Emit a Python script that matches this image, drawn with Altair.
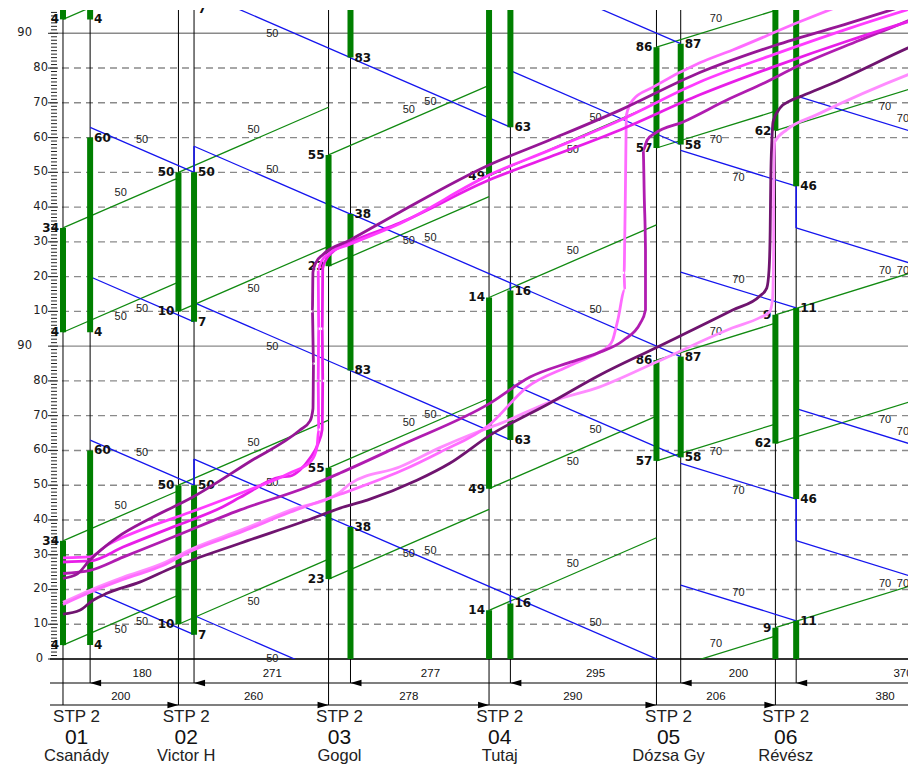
import altair as alt
import pandas as pd

# ---------------- chart values ----------------
CYCLE = 90                      # s, signal cycle
T_MAX = 186.7                   # s, top of time axis
X_MIN, X_MAX = -22.5, 1463.7    # m, distance range shown
W, H = 858, 649

names = ["Csanády", "Victor H", "Gogol", "Tutaj", "Dózsa Gy", "Révész"]
numbers = ["01", "02", "03", "04", "05", "06"]
controller = "STP 2"

dist_east = [200, 260, 278, 290, 206, 380]   # between left stop lines (m)
dist_west = [180, 271, 277, 295, 200, 370]   # between right stop lines (m)
west_offset = 47                             # first right stop line (m)
speed_east = [50, 50, 50, 50, 70, 70]        # km/h
speed_west = [50, 50, 50, 50, 70, 70]

green_east = [(4, 34), (10, 50), (23, 55), (49, 14), (57, 86), (62, 9)]
green_west = [(4, 60), (7, 50), (83, 38), (63, 16), (58, 87), (46, 11)]
# westbound band: departure times at the upstream right stop line
west_band = [(7, 50), (83, 38), (63, 18.2), (58, 87), (46, 11), (15, 53)]
# waiting marks on right stop lines: (line index, from, to)
west_wait = [(1, 50, 57.5), (3, 16, 18.2), (5, 34, 46)]

y_ticks = list(range(0, 181, 10))

traj_ids = ["LP1", "LP2", "DP", "MP", "GA_M2", "GA_M1", "GA_P"]
traj_colors = ["#ff8cff", "#ff6cff", "#6f146f", "#b01cb0", "#e81ee8", "#ff3cff", "#961696"]
traj_d = {
    "DP": [0, 29, 52, 76, 133, 191, 307, 423, 480, 527, 613, 670, 740, 843, 930, 1029, 1160, 1207, 1219,
           1223, 1225, 1226, 1228, 1230, 1242, 1259, 1276, 1334, 1464, 1536],
    "LP1": [0, 47, 104, 173, 225, 307, 393, 480, 497, 584, 653, 710, 757, 849, 930, 1029, 1160, 1207, 1224,
            1229, 1231, 1231, 1233, 1254, 1306, 1464, 1554],
    "LP2": [0, 47, 104, 173, 225, 307, 393, 480, 584, 653, 738, 804, 873, 926, 943, 952, 961, 973, 972,
            973, 974, 975, 976, 987, 1022, 1103, 1160, 1276, 1363],
    "MP": [0, 47, 104, 191, 307, 423, 480, 584, 740, 809, 879, 926, 971, 1000, 1009, 1009, 1007, 1005,
           1012, 1026, 1074, 1150, 1207, 1276, 1380, 1466, 1520],
    "GA_P": [0, 25, 45, 94, 152, 225, 324, 410, 428, 433, 434, 432, 433, 438, 450, 497, 584, 738, 843,
             965, 1103, 1233, 1363, 1450],
    "GA_M1": [0, 47, 76, 133, 220, 307, 393, 430, 440, 443, 442, 443, 442, 447, 460, 497, 584, 738, 843,
              965, 1103, 1233, 1363, 1467],
    "GA_M2": [0, 47, 104, 191, 277, 307, 376, 393, 410, 428, 442, 449, 450, 449, 450, 456, 468, 497, 584,
              738, 843, 965, 1103, 1233, 1363, 1467],
}
traj_t = {
    "DP": [12.9, 14.0, 16.9, 18.9, 22.1, 26.4, 33.3, 39.9, 43.4, 45.7, 51.4, 56.3, 64.4, 73.6, 81.7, 89.7,
           100.4, 104.4, 106.7, 111.9, 123.4, 137.8, 149.3, 154.5, 158.5, 160.5, 161.7, 165.7, 175.8, 181.0],
    "LP1": [16.3, 19.8, 23.5, 27.5, 31.8, 37.0, 42.8, 48.0, 50.4, 55.3, 60.8, 64.8, 67.7, 74.3, 78.3, 85.5,
            95.3, 98.2, 99.9, 103.4, 117.8, 132.2, 148.8, 152.3, 156.6, 168.1, 173.6],
    "LP2": [15.7, 19.2, 22.9, 26.9, 31.3, 36.4, 42.2, 47.4, 54.0, 59.5, 67.3, 78.2, 84.0, 88.0, 89.7, 91.7,
            97.5, 106.1, 111.1, 120.5, 132.0, 146.4, 156.5, 160.8, 164.5, 171.5, 175.2, 183.3, 189.0],
    "MP": [24.6, 25.5, 29.3, 35.1, 42.9, 49.5, 53.5, 61.4, 73.6, 81.1, 85.4, 88.0, 91.7, 96.6, 100.4, 117.6,
           132.0, 146.4, 149.3, 151.3, 154.5, 160.8, 165.1, 170.8, 178.0, 183.8, 188.0],
    "GA_P": [23.2, 24.5, 28.2, 35.0, 40.5, 46.6, 56.8, 65.8, 68.5, 72.0, 85.0, 100.0, 111.3, 114.0, 116.3,
             120.5, 128.6, 142.1, 149.3, 157.9, 168.7, 176.5, 183.0, 187.5],
    "GA_M1": [29.1, 29.4, 32.7, 37.0, 42.2, 47.7, 53.5, 57.0, 61.0, 66.0, 80.0, 95.0, 112.0, 114.2, 116.6,
              119.3, 125.3, 139.2, 146.4, 155.0, 166.0, 174.0, 181.5, 187.0],
    "GA_M2": [27.9, 28.2, 32.2, 38.0, 43.8, 46.5, 52.3, 52.6, 54.3, 57.8, 62.0, 66.0, 80.0, 95.0, 112.5,
              115.0, 117.2, 119.8, 125.5, 137.8, 144.4, 152.2, 162.3, 170.5, 178.0, 183.5],
}

# ---------------- derived tables ----------------
dL = [0]
for d in dist_east:
    dL.append(dL[-1] + d)
dR = [west_offset]
for d in dist_west:
    dR.append(dR[-1] + d)
CYC = [-2, -1, 0, 1, 2]

band_rows, lab_rows = [], []
for i in range(6):
    tt = dist_east[i] / (speed_east[i] / 3.6)
    for edge, t0 in zip(("lower", "upper"), green_east[i]):
        for k in CYC:
            a = t0 + CYCLE * k
            band_rows.append(dict(d0=dL[i], t0=a, d1=dL[i + 1], t1=a + tt, c="g"))
            lab_rows.append(dict(d=(dL[i] + dL[i + 1]) / 2, tm=a + tt / 2, edge=edge, s=str(speed_east[i])))
for j in range(6):
    tt = dist_west[j] / (speed_west[j] / 3.6)
    for edge, t0 in zip(("lower", "upper"), west_band[j]):
        for k in CYC:
            a = t0 + CYCLE * k
            band_rows.append(dict(d0=dR[j + 1], t0=a, d1=dR[j], t1=a + tt, c="b"))
            lab_rows.append(dict(d=(dR[j] + dR[j + 1]) / 2, tm=a + tt / 2, edge=edge, s=str(speed_west[j])))
band = pd.DataFrame(band_rows)
labs = pd.DataFrame(lab_rows)
labs = labs[(labs.tm > 0) & (labs.tm < T_MAX) & (labs.d < X_MAX + 40)].copy()
px_per_s = H / T_MAX
labs["tl"] = labs.tm + labs.edge.map({"lower": -10, "upper": 10}) / px_per_s

wait_rows = []
for idx, a, b in west_wait:
    for k in CYC:
        wait_rows.append(dict(d=dR[idx], t0=a + CYCLE * k, t1=b + CYCLE * k))
waits = pd.DataFrame(wait_rows)

bar_rows, num_rows = [], []
for side, pos, greens in (("L", dL, green_east), ("R", dR, green_west)):
    for i in range(6):
        s, e = greens[i]
        e2 = e + CYCLE if e < s else e
        for k in CYC:
            bar_rows.append(dict(d=pos[i], t0=s + CYCLE * k, t1=e2 + CYCLE * k))
            for v in (s, e):
                t = v + CYCLE * k
                if -0.5 <= t <= T_MAX + 1.5:
                    num_rows.append(dict(d=pos[i], t=t, s=str(v), side=side))
bars = pd.DataFrame(bar_rows)
nums = pd.DataFrame(num_rows)

traj = pd.DataFrame([dict(id=n, d=d, t=t, o=o) for n in traj_ids
                     for o, (d, t) in enumerate(zip(traj_d[n], traj_t[n]))])

grid = pd.DataFrame({"t": list(range(10, 181, 10))})
grid["solid"] = grid.t % CYCLE == 0
ruler = pd.DataFrame({"t": list(range(0, int(T_MAX) + 1))})
ruler["major"] = ruler.t % 10 == 0
ylab = pd.DataFrame({"t": y_ticks})
ylab["s"] = [("0" if t == 0 else ("90" if t % CYCLE == 0 else str(t % CYCLE))) for t in y_ticks]
ylab["kind"] = ["zero" if t == 0 else ("ninety" if t % CYCLE == 0 else "n") for t in y_ticks]

linesL = pd.DataFrame({"d": dL[:6]})
linesR = pd.DataFrame({"d": dR[:6]})
arrowsL = pd.DataFrame({"d": dL[1:6]})
dimL = pd.DataFrame({"d": [(dL[i] + dL[i + 1]) / 2 for i in range(6)], "s": [str(v) for v in dist_east]})
dimR = pd.DataFrame({"d": [(dR[i] + dR[i + 1]) / 2 for i in range(6)], "s": [str(v) for v in dist_west]})
foot = pd.DataFrame({"d": [(dL[i] + dR[i]) / 2 for i in range(6)], "stp": [controller] * 6,
                     "num": numbers, "name": names})

# ---------------- chart ----------------
xs = alt.Scale(domain=[X_MIN, X_MAX], nice=False, zero=False)
ys = alt.Scale(domain=[0, T_MAX], nice=False, zero=False)


def X(f):
    return alt.X(f, type="quantitative", scale=xs, axis=None)


def Y(f):
    return alt.Y(f, type="quantitative", scale=ys, axis=None)


layers = []
layers.append(alt.Chart(grid).mark_rule(color="#8a8a8a", strokeWidth=1.4, strokeDash=[7, 5])
              .encode(y=Y("t"), x=alt.value(0), x2=alt.value(W)).transform_filter("!datum.solid"))
layers.append(alt.Chart(grid).mark_rule(color="#8a8a8a", strokeWidth=1.4)
              .encode(y=Y("t"), x=alt.value(0), x2=alt.value(W)).transform_filter("datum.solid"))
layers.append(alt.Chart(ruler).mark_rule(color="#222", strokeWidth=1)
              .encode(y=Y("t"), x=alt.value(1), x2=alt.value(7)).transform_filter("!datum.major"))
layers.append(alt.Chart(ruler).mark_rule(color="#222", strokeWidth=1)
              .encode(y=Y("t"), x=alt.value(-2), x2=alt.value(8)).transform_filter("datum.major"))
layers.append(alt.Chart(pd.DataFrame({"t": [0]})).mark_rule(color="#333", strokeWidth=2)
              .encode(y=Y("t"), x=alt.value(0), x2=alt.value(W)))

# stop lines and dimension rows
layers.append(alt.Chart(linesL).mark_rule(color="black", strokeWidth=1)
              .encode(x=X("d"), y=alt.value(0), y2=alt.value(695)))
layers.append(alt.Chart(linesR).mark_rule(color="black", strokeWidth=1)
              .encode(x=X("d"), y=alt.value(0), y2=alt.value(673)))
for yy in (673, 695):
    layers.append(alt.Chart(pd.DataFrame({"a": [0]})).mark_rule(color="black", strokeWidth=1.2)
                  .encode(x=alt.value(0), x2=alt.value(W), y=alt.value(yy)))
layers.append(alt.Chart(linesR).mark_point(shape="M-1,0L1,-0.6L1,0.6Z", filled=True, size=121,
                                           color="black", opacity=1, xOffset=5.5)
              .encode(x=X("d"), y=alt.value(673)))
layers.append(alt.Chart(arrowsL).mark_point(shape="M1,0L-1,-0.6L-1,0.6Z", filled=True, size=121,
                                            color="black", opacity=1, xOffset=-5.5)
              .encode(x=X("d"), y=alt.value(695)))
layers.append(alt.Chart(dimR).mark_text(font="Liberation Sans", fontSize=11.5, color="#111", baseline="middle")
              .encode(x=X("d"), y=alt.value(664), text="s:N"))
layers.append(alt.Chart(dimL).mark_text(font="Liberation Sans", fontSize=11.5, color="#111", baseline="middle")
              .encode(x=X("d"), y=alt.value(687), text="s:N"))
layers.append(alt.Chart(foot).mark_text(font="Liberation Sans", fontSize=17, color="#222", baseline="middle")
              .encode(x=X("d"), y=alt.value(707), text="stp:N"))
layers.append(alt.Chart(foot).mark_text(font="Liberation Sans", fontSize=21, color="#111", baseline="middle")
              .encode(x=X("d"), y=alt.value(728), text="num:N"))
layers.append(alt.Chart(foot).mark_text(font="Liberation Sans", fontSize=16.5, color="#222", baseline="middle")
              .encode(x=X("d"), y=alt.value(746), text="name:N"))

# y labels
for kind, xv in (("n", -2), ("ninety", -18), ("zero", -7)):
    layers.append(alt.Chart(ylab).mark_text(font="DejaVu Sans", fontSize=11.5, color="#222", align="right",
                                            baseline="middle")
                  .encode(y=Y("t"), x=alt.value(xv), text="s:N")
                  .transform_filter(f"datum.kind == '{kind}'"))

# progression bands
layers.append(alt.Chart(band).mark_rule(color="#118a11", strokeWidth=1.3, clip=True)
              .encode(x=X("d0"), x2="d1", y=Y("t0"), y2="t1").transform_filter("datum.c == 'g'"))
layers.append(alt.Chart(band).mark_rule(color="#1515ee", strokeWidth=1.3, clip=True)
              .encode(x=X("d0"), x2="d1", y=Y("t0"), y2="t1").transform_filter("datum.c == 'b'"))
layers.append(alt.Chart(waits).mark_rule(color="#1515ee", strokeWidth=1.6, clip=True)
              .encode(x=X("d"), y=Y("t0"), y2="t1"))
layers.append(alt.Chart(bars).mark_rule(color="#007f00", strokeWidth=6, clip=True)
              .encode(x=X("d"), y=Y("t0"), y2="t1"))
layers.append(alt.Chart(labs).mark_text(font="Liberation Sans", fontSize=11, color="#222", baseline="middle")
              .encode(x=X("d"), y=Y("tl"), text="s:N"))
layers.append(alt.Chart(nums).mark_text(font="DejaVu Sans", fontSize=12, fontWeight="bold", color="#111",
                                        align="right", dx=-4, baseline="middle")
              .encode(x=X("d"), y=Y("t"), text="s:N").transform_filter("datum.side == 'L'"))
layers.append(alt.Chart(nums).mark_text(font="DejaVu Sans", fontSize=12, fontWeight="bold", color="#111",
                                        align="left", dx=4, baseline="middle")
              .encode(x=X("d"), y=Y("t"), text="s:N").transform_filter("datum.side == 'R'"))

# vehicle trajectories
layers.append(alt.Chart(traj).mark_line(strokeWidth=2.8, clip=True, interpolate="monotone")
              .encode(x=X("d"), y=Y("t"), order="o:Q",
                      color=alt.Color("id:N", scale=alt.Scale(domain=traj_ids, range=traj_colors), legend=None),
                      detail="id:N"))

chart = alt.layer(*layers).properties(
    width=W, height=H,
    padding={"left": 42, "top": 2, "right": 0, "bottom": 108},
    autosize=alt.AutoSizeParams(type="none"),
).configure_view(stroke=None)

chart.save("out.html", embed_options={"renderer": "svg", "actions": False})
